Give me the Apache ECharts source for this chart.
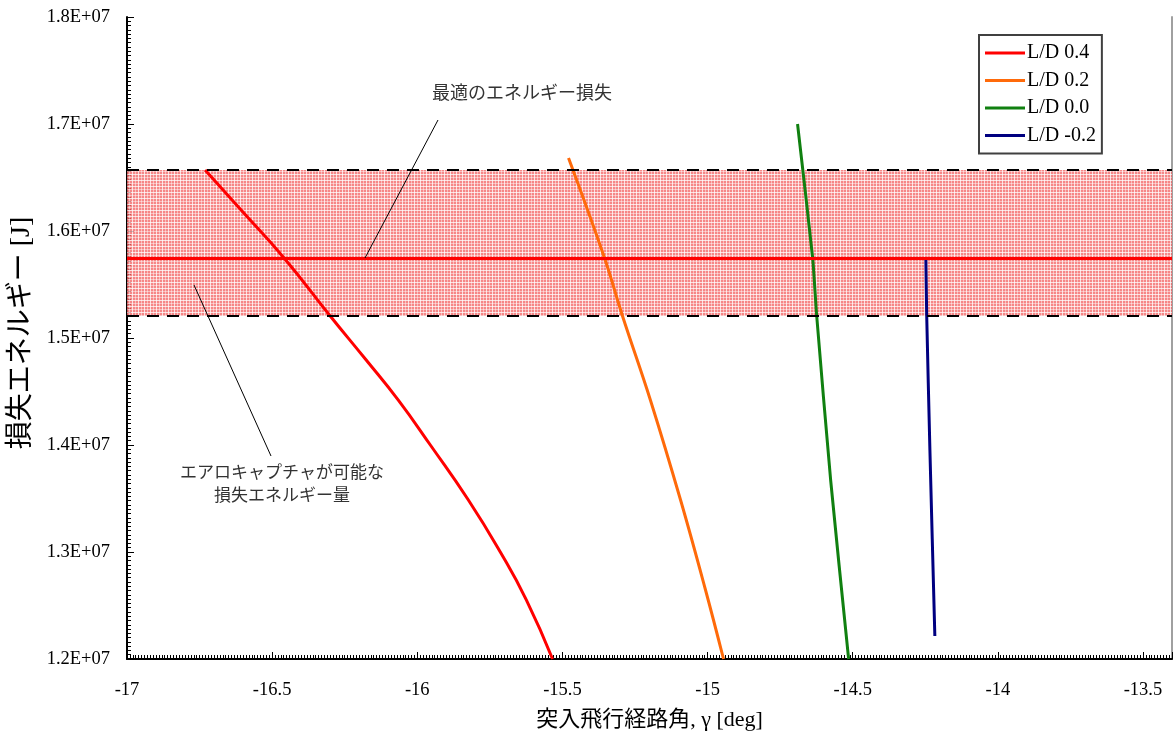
<!DOCTYPE html>
<html><head><meta charset="utf-8">
<script src="https://cdn.jsdelivr.net/npm/echarts@6/dist/echarts.min.js"></script>
<style>html,body{margin:0;padding:0;background:#fff}#c{width:1174px;height:742px}</style>
</head><body><div id="c"></div>
<script>
// ---- data ----
const ld04_g = [-16.731, -16.607, -16.459, -16.300, -16.176, -16.066, -15.955, -15.824, -15.714, -15.624, -15.534];
const ld04_E = [16.570e6, 16.196e6, 15.748e6, 15.206e6, 14.794e6, 14.421e6, 14.000e6, 13.486e6, 13.000e6, 12.551e6, 12.000e6];
const ld02_g = [-15.479, -15.355, -15.293, -15.197, -15.093, -15.007, -14.945];
const ld02_E = [16.682e6, 15.748e6, 15.206e6, 14.421e6, 13.486e6, 12.645e6, 12.000e6];
const ld00_g = [-14.690, -14.638, -14.624, -14.576, -14.514];
const ld00_E = [17.000e6, 15.748e6, 15.206e6, 13.673e6, 12.000e6];
const ldm02_g = [-14.248, -14.245, -14.234, -14.217];
const ldm02_E = [15.748e6, 15.206e6, 13.953e6, 12.215e6];
const seriesNames = ['L/D 0.4', 'L/D 0.2', 'L/D 0.0', 'L/D -0.2'];
const optimalEnergy = 15.748e6;
const bandUpper = 16.570e6;
const bandLower = 15.206e6;
const xMin = -17, xMax = -13.4, xStep = 0.5;
const yMin = 1.2e7, yMax = 1.8e7, yStep = 1e6;
const annoOptimal = '最適のエネルギー損失';
const annoBand = 'エアロキャプチャが可能な\n損失エネルギー量';
const xName = '突入飛行経路角, γ [deg]';
const yName = '損失エネルギー [J]';

const zip = (a, b) => a.map((v, i) => [v, b[i]]);

// hatch pattern
const pc = document.createElement('canvas');
pc.width = 6; pc.height = 6;
const px = pc.getContext('2d');
px.fillStyle = '#f46a6a'; px.fillRect(0, 0, 6, 6);
px.fillStyle = 'rgba(255,255,255,0.75)';
px.fillRect(0, 0, 6, 1); px.fillRect(0, 0, 1, 6);
px.fillStyle = 'rgba(255,255,255,0.45)';
px.fillRect(3, 0, 1, 6); px.fillRect(0, 3, 6, 1);

const serif = '"Liberation Serif", "Noto Sans CJK JP", serif';
const chart = echarts.init(document.getElementById('c'), null, {renderer: 'canvas'});
const colors = ['#ff0000', '#ff6a0a', '#108010', '#000080'];

chart.setOption({
  animation: false,
  textStyle: {fontFamily: serif, color: '#000'},
  grid: {left: 127, right: 2, top: 17, bottom: 83, outerBoundsMode: 'none', containLabel: false},
  legend: {
    orient: 'vertical', left: 979, top: 35,
    padding: [8, 6, 8, 6],
    backgroundColor: '#fff', borderColor: '#404040', borderWidth: 2,
    itemWidth: 40, itemHeight: 3, itemGap: 7.5, icon: 'rect',
    textStyle: {fontFamily: serif, fontSize: 20, color: '#000', padding: [0, 0, 0, -3]},
    data: seriesNames
  },
  xAxis: {
    type: 'value', min: xMin, max: xMax, interval: xStep,
    name: xName, nameLocation: 'middle', nameGap: 50,
    nameTextStyle: {fontFamily: serif, fontSize: 22, color: '#000'},
    axisLine: {lineStyle: {color: '#000', width: 2}},
    axisTick: {inside: true, length: 7, lineStyle: {color: '#000', width: 1}},
    minorTick: {show: true, splitNumber: 50, length: 4, lineStyle: {color: '#000', width: 1}},
    splitLine: {show: false},
    axisLabel: {fontFamily: serif, fontSize: 18.5, color: '#000', margin: 22,
      formatter: v => Math.abs(v - xMax) < 1e-6 ? '' : String(v)}
  },
  yAxis: [{
    type: 'value', min: yMin, max: yMax, interval: yStep,
    name: yName, nameLocation: 'middle', nameGap: 86, nameRotate: 90,
    nameTextStyle: {fontFamily: serif, fontSize: 28, color: '#000', padding: [0, 0, 0, 10]},
    axisLine: {lineStyle: {color: '#000', width: 2}},
    axisTick: {inside: true, length: 7, lineStyle: {color: '#000', width: 1}},
    minorTick: {show: true, splitNumber: 25, length: 4, lineStyle: {color: '#000', width: 1}},
    splitLine: {show: false},
    axisLabel: {fontFamily: serif, fontSize: 18.5, color: '#000', margin: 17,
      formatter: v => (v / 1e7).toFixed(1) + 'E+07'}
  }, {
    type: 'value', min: yMin, max: yMax, position: 'right',
    axisLine: {show: true, lineStyle: {color: '#a0a0a0', width: 2}},
    axisTick: {show: false}, axisLabel: {show: false}, splitLine: {show: false}
  }],
  series: [
    {
      type: 'line', name: '_band', data: [], silent: true,
      markArea: {silent: true, itemStyle: {color: {image: pc, repeat: 'repeat'}, opacity: 0.8},
        data: [[{yAxis: bandLower}, {yAxis: bandUpper}]]},
      markLine: {silent: true, symbol: 'none', label: {show: false},
        data: [
          {yAxis: bandUpper, lineStyle: {color: '#000', width: 2, type: [12, 8]}},
          {yAxis: bandLower, lineStyle: {color: '#000', width: 2, type: [12, 8]}},
          {yAxis: optimalEnergy, lineStyle: {color: '#ff0000', width: 3, type: 'solid'}}
        ]}
    },
    {type: 'line', name: seriesNames[0], data: zip(ld04_g, ld04_E), smooth: 0.5, showSymbol: false, symbol: 'none', color: colors[0], lineStyle: {width: 3}},
    {type: 'line', name: seriesNames[1], data: zip(ld02_g, ld02_E), smooth: 0.4, showSymbol: false, symbol: 'none', color: colors[1], lineStyle: {width: 3}},
    {type: 'line', name: seriesNames[2], data: zip(ld00_g, ld00_E), smooth: 0.2, showSymbol: false, symbol: 'none', color: colors[2], lineStyle: {width: 3}},
    {type: 'line', name: seriesNames[3], data: zip(ldm02_g, ldm02_E), smooth: 0.2, showSymbol: false, symbol: 'none', color: colors[3], lineStyle: {width: 3}}
  ],
  graphic: [
    {type: 'text', z: 100, style: {x: 522, y: 92, text: annoOptimal, font: '18px "Noto Sans CJK JP"', fill: '#333', align: 'center', verticalAlign: 'middle'}},
    {type: 'line', z: 100, shape: {x1: 438, y1: 120, x2: 365, y2: 258}, style: {stroke: '#000', lineWidth: 1}},
    {type: 'text', z: 100, style: {x: 282, y: 460, text: annoBand, font: '17px "Noto Sans CJK JP"', fill: '#333', align: 'center', verticalAlign: 'top', lineHeight: 23}},
    {type: 'line', z: 100, shape: {x1: 194, y1: 285, x2: 271, y2: 456}, style: {stroke: '#000', lineWidth: 1}}
  ]
});
</script></body></html>
